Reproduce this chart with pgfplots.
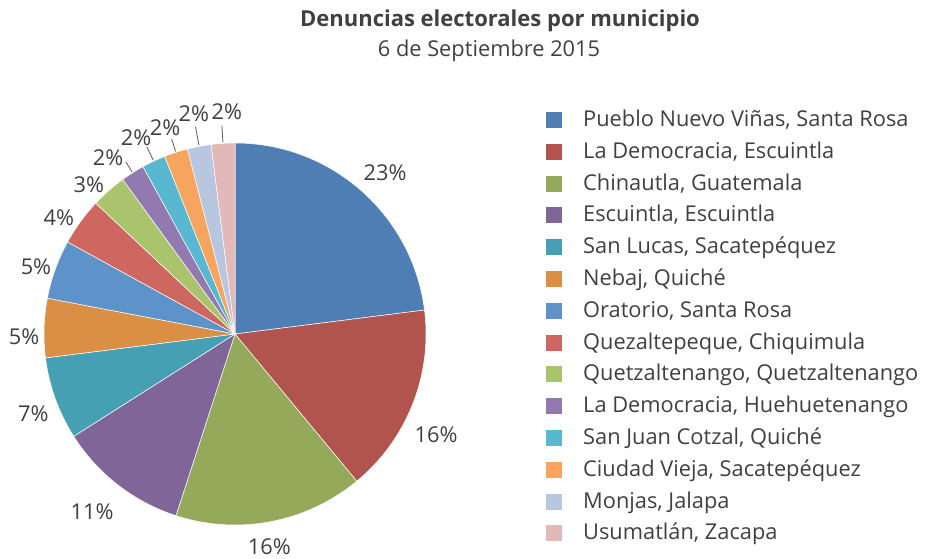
\documentclass[border=0pt]{standalone}
\usepackage{pgfplots}
\pgfplotsset{compat=1.18}
\usepackage{pgfplotstable}
\usepackage{fontspec}
\setmainfont{Open Sans}

\definecolor{sl0}{HTML}{4E7EB3}
\definecolor{sl1}{HTML}{B0544D}
\definecolor{sl2}{HTML}{94AA5A}
\definecolor{sl3}{HTML}{7F6598}
\definecolor{sl4}{HTML}{46A0B4}
\definecolor{sl5}{HTML}{DA8F45}
\definecolor{sl6}{HTML}{5E93C9}
\definecolor{sl7}{HTML}{CD6760}
\definecolor{sl8}{HTML}{AAC46D}
\definecolor{sl9}{HTML}{9279B0}
\definecolor{sl10}{HTML}{57B8CF}
\definecolor{sl11}{HTML}{F7A45E}
\definecolor{sl12}{HTML}{B8C6E0}
\definecolor{sl13}{HTML}{E2B9B8}
\definecolor{txt}{HTML}{404040}

% pct = porcentaje; la, lr = angulo y radio de la etiqueta
\pgfplotstableread[col sep=semicolon]{
municipio;pct;la;lr
Pueblo Nuevo Viñas, Santa Rosa;23;47.0;220
La Democracia, Escuintla;16;-26.7;225
Chinautla, Guatemala;16;-80.8;215
Escuintla, Escuintla;11;-128.8;228
San Lucas, Sacatepéquez;7;-158.4;217
Nebaj, Quiché;5;-179.2;211
Oratorio, Santa Rosa;5;161.4;210
Quezaltepeque, Chiquimula;4;146.6;211
Quetzaltenango, Quetzaltenango;3;134.4;209
La Democracia, Huehuetenango;2;125.8;217
San Juan Cotzal, Quiché;2;116.7;220
Ciudad Vieja, Sacatepéquez;2;108.7;218
Monjas, Jalapa;2;100.6;224
Usumatlán, Zacapa;2;92.1;222
}\datos

\begin{document}
\begin{tikzpicture}[
  lbl/.style={font=\fontsize{21.8bp}{26bp}\selectfont, text=txt, inner sep=0pt},
  leader/.style={draw=black!65, line width=0.8bp},
]
\begin{axis}[
  x=1bp, y=1bp,
  xmin=0, xmax=926, ymin=0, ymax=559,
  scale only axis, hide axis, clip=false,
]
\path (axis cs:0,0) rectangle (axis cs:926,559);
\node[lbl, font=\bfseries\fontsize{22bp}{26bp}\selectfont, anchor=base] at (axis cs:500,532) {Denuncias electorales por municipio};
\node[lbl, anchor=base] at (axis cs:489,502) {6 de Septiembre 2015};

\gdef\cum{90}
\pgfplotsforeachungrouped \i in {0,...,13}{%
  \pgfplotstablegetelem{\i}{pct}\of\datos \let\pc\pgfplotsretval
  \pgfplotstablegetelem{\i}{la}\of\datos \let\la\pgfplotsretval
  \pgfplotstablegetelem{\i}{lr}\of\datos \let\lr\pgfplotsretval
  \pgfplotstablegetelem{\i}{municipio}\of\datos \let\nom\pgfplotsretval
  \pgfmathsetmacro\aini{\cum}
  \pgfmathsetmacro\afin{\cum-3.6*\pc}
  \pgfmathsetmacro\amed{(\aini+\afin)/2}
  \pgfmathsetmacro\dl{\lr-13-192}
  \pgfmathsetmacro\ly{439-31.8*\i}
  \edef\temp{%
    \noexpand\fill[sl\i, draw=white, line width=0.5bp] (axis cs:235,225) -- ++(\aini:191bp)
      arc[start angle=\aini, end angle=\afin, radius=191bp] -- cycle;
    \noexpand\path (axis cs:235,225) ++(\la:\lr bp) node[lbl] {\pc\noexpand\%};
    \noexpand\fill[sl\i] (axis cs:546,\ly-8) rectangle (axis cs:562,\ly+8);
    \noexpand\node[lbl, anchor=base west] at (axis cs:583,\ly-6.5) {\nom};
  }\temp
  \ifnum\i>8
    \edef\temp{\noexpand\draw[leader] (axis cs:235,225) ++(\amed:192bp) -- ++(\amed:\dl bp);}\temp
  \fi
  \xdef\cum{\afin}
}
\end{axis}
\end{tikzpicture}
\end{document}
